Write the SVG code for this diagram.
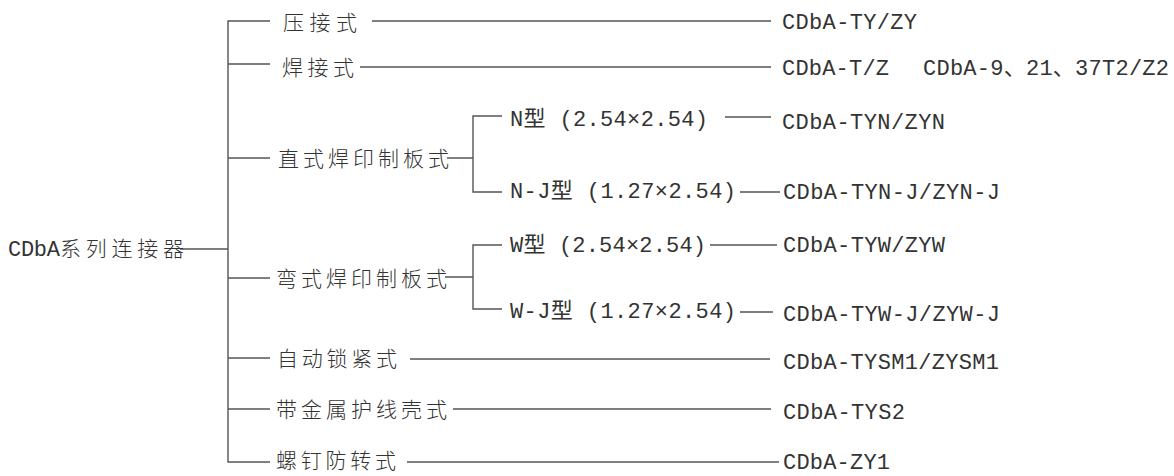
<svg xmlns="http://www.w3.org/2000/svg" width="1174" height="476" viewBox="0 0 1174 476">
<style>
.cn{font-family:"Noto Sans CJK SC","Noto Sans",sans-serif;font-size:21px;font-weight:300;fill:#333}
.en{font-family:"Liberation Mono","DejaVu Sans Mono","Noto Sans CJK SC",monospace;font-size:22px;fill:#333}
.ln{fill:none;stroke:#555;stroke-width:1.4}
</style>
<rect width="1174" height="476" fill="#fff"/>
<g id="connectors">
<path class="ln" d="M180,249 H228 M270,21 H228 V462 H270 M228,64 H270 M228,158 H270 M228,278 H270 M228,358 H270 M228,409 H270"/>
<path class="ln" d="M372,21 H771 M360,67 H771"/>
<path class="ln" d="M447,158 H473 M502,116 H473 V192 H502 M725,117 H771 M740,192 H780"/>
<path class="ln" d="M445,277 H473 M502,245 H473 V309 H502 M710,245 H777 M740,312 H773"/>
<path class="ln" d="M410,359 H770 M453,409 H771 M407,462 H779"/>
</g>
<g id="root"><text class="en" x="8" y="256" textLength="52" lengthAdjust="spacing">CDbA</text><text class="cn" x="60" y="256" textLength="124" lengthAdjust="spacing">系列连接器</text></g>
<g id="n-yajie"><text class="cn" x="283" y="29.5" textLength="74" lengthAdjust="spacing">压接式</text></g>
<g id="n-hanjie"><text class="cn" x="282" y="74.5" textLength="72" lengthAdjust="spacing">焊接式</text></g>
<g id="n-zhishi"><text class="cn" x="278" y="165.5" textLength="171" lengthAdjust="spacing">直式焊印制板式</text></g>
<g id="n-wanshi"><text class="cn" x="276" y="285.5" textLength="171" lengthAdjust="spacing">弯式焊印制板式</text></g>
<g id="n-zidong"><text class="cn" x="277" y="365.5" textLength="120" lengthAdjust="spacing">自动锁紧式</text></g>
<g id="n-daijin"><text class="cn" x="276" y="416.5" textLength="171" lengthAdjust="spacing">带金属护线壳式</text></g>
<g id="n-luoding"><text class="cn" x="276" y="468" textLength="120" lengthAdjust="spacing">螺钉防转式</text></g>
<g id="n-N"><text class="en" x="510" y="126" textLength="198" lengthAdjust="spacing">N型 (2.54×2.54)</text></g>
<g id="n-NJ"><text class="en" x="510" y="198" textLength="226" lengthAdjust="spacing">N-J型 (1.27×2.54)</text></g>
<g id="n-W"><text class="en" x="510" y="252" textLength="196" lengthAdjust="spacing">W型 (2.54×2.54)</text></g>
<g id="n-WJ"><text class="en" x="510" y="318" textLength="226" lengthAdjust="spacing">W-J型 (1.27×2.54)</text></g>
<g id="r-1"><text class="en" x="782" y="29" textLength="135" lengthAdjust="spacing">CDbA-TY/ZY</text></g>
<g id="r-2"><text class="en" x="782" y="75" textLength="107" lengthAdjust="spacing">CDbA-T/Z</text><text class="en" x="923" y="75" textLength="246" lengthAdjust="spacing">CDbA-9、21、37T2/Z2</text></g>
<g id="r-3"><text class="en" x="782" y="129" textLength="163" lengthAdjust="spacing">CDbA-TYN/ZYN</text></g>
<g id="r-4"><text class="en" x="783" y="199" textLength="217" lengthAdjust="spacing">CDbA-TYN-J/ZYN-J</text></g>
<g id="r-5"><text class="en" x="783" y="252" textLength="162" lengthAdjust="spacing">CDbA-TYW/ZYW</text></g>
<g id="r-6"><text class="en" x="783" y="321" textLength="217" lengthAdjust="spacing">CDbA-TYW-J/ZYW-J</text></g>
<g id="r-7"><text class="en" x="783" y="369" textLength="216" lengthAdjust="spacing">CDbA-TYSM1/ZYSM1</text></g>
<g id="r-8"><text class="en" x="783" y="419" textLength="122" lengthAdjust="spacing">CDbA-TYS2</text></g>
<g id="r-9"><text class="en" x="783" y="469" textLength="107" lengthAdjust="spacing">CDbA-ZY1</text></g>
</svg>
